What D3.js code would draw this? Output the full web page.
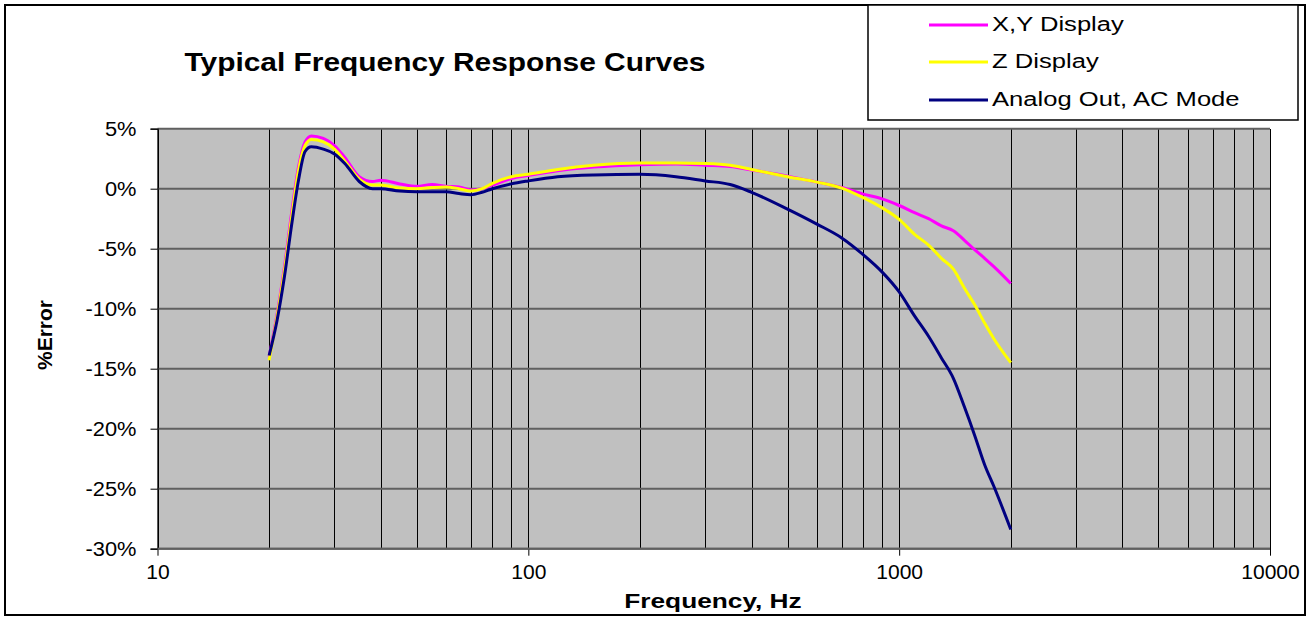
<!DOCTYPE html>
<html>
<head>
<meta charset="utf-8">
<script src="https://cdn.jsdelivr.net/npm/d3@7"></script>
<style>
  body { margin: 0; background: #fff; }
  text { font-family: Arial, "Liberation Sans", sans-serif; fill: #000; }
</style>
</head>
<body>
<div id="chart"></div>
<script>
var chart_width = 1312;
var chart_height = 619;

// Data
var frequencies = [20, 21, 22, 23, 24, 25, 26, 28, 30, 32, 35, 38, 40, 45, 50, 55, 60, 65, 70, 75, 80, 90,
	100, 120, 150, 200, 250, 300, 350, 400, 500, 600, 700, 800, 900,
	1000, 1100, 1200, 1300, 1400, 1500, 1600, 1700, 1800, 2000];

var xy_display = [-14.0, -10.5, -6.5, -2.0, 1.8, 3.9, 4.4, 4.2, 3.6, 2.6, 1.0, 0.6, 0.7, 0.4, 0.2, 0.35, 0.2, 0.15, -0.1, 0.0, 0.3, 0.85,
	1.1, 1.5, 1.8, 2.0, 2.05, 1.95, 1.85, 1.55, 1.05, 0.55, 0.1, -0.45, -0.85,
	-1.4, -2.0, -2.5, -3.1, -3.5, -4.3, -5.1, -5.8, -6.5, -7.9];

var z_display = [-14.3, -10.7, -6.8, -2.4, 1.5, 3.6, 4.1, 3.9, 3.3, 2.3, 0.8, 0.3, 0.3, 0.05, 0.0, 0.1, 0.15, 0.0, -0.2, 0.0, 0.45, 1.0,
	1.2, 1.6, 1.95, 2.15, 2.15, 2.1, 1.95, 1.6, 1.0, 0.55, 0.05, -0.75, -1.6,
	-2.55, -3.8, -4.7, -5.8, -6.7, -8.3, -9.7, -11.2, -12.5, -14.5];

var analog_out = [-13.9, -11.0, -7.3, -3.0, 0.7, 3.1, 3.5, 3.3, 2.9, 2.1, 0.6, 0.0, 0.0, -0.2, -0.25, -0.25, -0.25, -0.4, -0.5, -0.3, 0.0, 0.4,
	0.65, 1.0, 1.15, 1.2, 1.0, 0.65, 0.35, -0.3, -1.7, -2.95, -4.1, -5.5, -6.95,
	-8.6, -10.6, -12.3, -14.1, -15.8, -18.2, -20.6, -23.0, -24.8, -28.4];

var series_names = ["X,Y Display", "Z Display", "Analog Out, AC Mode"];
var series_colors = ["#ff00ff", "#ffff00", "#000080"];

var y_ticks = [5, 0, -5, -10, -15, -20, -25, -30];
var x_major_ticks = [10, 100, 1000, 10000];
var x_minor_ticks = [20, 30, 40, 50, 60, 70, 80, 90, 200, 300, 400, 500, 600, 700, 800, 900,
	2000, 3000, 4000, 5000, 6000, 7000, 8000, 9000];

var series = [xy_display, z_display, analog_out];

// Scales
var x = d3.scaleLog().domain([10, 10000]).range([157.5, 1270]);
var y = d3.scaleLinear().domain([-30, 5]).range([548.7, 128.7]);

var svg = d3.select('#chart')
			.append('svg')
			.attr('width', chart_width)
			.attr('height', chart_height);

// outer frame
svg.append('rect')
	.attr('x', 5).attr('y', 5)
	.attr('width', 1300).attr('height', 610)
	.attr('fill', 'white')
	.attr('stroke', 'black')
	.attr('stroke-width', 2);

// plot area
svg.append('rect')
	.attr('x', x(10)).attr('y', y(5))
	.attr('width', x(10000) - x(10))
	.attr('height', y(-30) - y(5))
	.attr('fill', '#c0c0c0');

// vertical grid
svg.selectAll('line.vgrid')
	.data(x_minor_ticks.concat(x_major_ticks))
	.enter()
	.append('line')
	.attr('class', 'vgrid')
	.attr('x1', function(d){ return Math.round(x(d)) + 0.5; })
	.attr('x2', function(d){ return Math.round(x(d)) + 0.5; })
	.attr('y1', y(5))
	.attr('y2', y(-30))
	.attr('stroke', 'black')
	.attr('stroke-width', 1)
	.attr('shape-rendering', 'crispEdges');

// horizontal grid
svg.selectAll('line.hgrid')
	.data(y_ticks)
	.enter()
	.append('line')
	.attr('class', 'hgrid')
	.attr('x1', x(10))
	.attr('x2', x(10000))
	.attr('y1', function(d){ return y(d); })
	.attr('y2', function(d){ return y(d); })
	.attr('stroke', '#606060')
	.attr('stroke-width', 2);

// Axes
var y_axis = d3.axisLeft(y)
	.tickValues(y_ticks)
	.tickSize(7)
	.tickPadding(14)
	.tickFormat(function(d){ return d + '%'; });

var x_axis = d3.axisBottom(x)
	.tickValues(x_major_ticks)
	.tickSize(7)
	.tickPadding(9)
	.tickFormat(d3.format('d'));

var gy = svg.append('g')
	.attr('transform', 'translate(' + x(10) + ',0)')
	.call(y_axis);
gy.select('.domain').attr('stroke', 'black').attr('stroke-width', 1.2);
gy.selectAll('.tick line').attr('stroke', 'black');
gy.selectAll('.tick text')
	.style('font-size', '19.5px')
	.attr('dy', '0.36em');

var gx = svg.append('g')
	.attr('transform', 'translate(0,' + y(-30) + ')')
	.call(x_axis);
gx.select('.domain').remove();
gx.selectAll('.tick line').attr('stroke', 'black');
gx.selectAll('.tick text')
	.style('font-size', '19.5px');

// stretch text horizontally like the reference
function stretch(sel, k){
	sel.each(function(){
		var t = d3.select(this);
		var bx = this.getBBox();
		var cx = bx.x + bx.width / 2;
		var anchor = t.attr('text-anchor') || window.getComputedStyle(this).textAnchor;
		var ox = anchor === 'end' ? bx.x + bx.width : (anchor === 'start' ? bx.x : cx);
		var prev = t.attr('transform') || '';
		t.attr('transform', prev + ' translate(' + ox + ',0) scale(' + k + ',1) translate(' + (-ox) + ',0)');
	});
}
stretch(gy.selectAll('.tick text'), 1.12);
stretch(gx.selectAll('.tick text'), 1.08);

// bottom axis line (gray)
svg.append('line')
	.attr('x1', x(10)).attr('x2', x(10000))
	.attr('y1', y(-30)).attr('y2', y(-30))
	.attr('stroke', '#606060')
	.attr('stroke-width', 2);

// Curves
var line = d3.line()
	.x(function(d){ return x(d[0]); })
	.y(function(d){ return y(d[1]); })
	.curve(d3.curveMonotoneX);

svg.selectAll('path.curve')
	.data(series)
	.enter()
	.append('path')
	.attr('class', 'curve')
	.attr('d', function(values){
		return line(frequencies.map(function(f, i){ return [f, values[i]]; }));
	})
	.attr('fill', 'none')
	.attr('stroke', function(d, i){ return series_colors[i]; })
	.attr('stroke-width', 3)
	.attr('stroke-linejoin', 'round');

// Title
var title = svg.append('text')
	.attr('x', 445)
	.attr('y', 71)
	.attr('text-anchor', 'middle')
	.style('font-size', '26px')
	.style('font-weight', 'bold')
	.text('Typical Frequency Response Curves');
stretch(title, 1.15);

// Axis titles
var xlabel = svg.append('text')
	.attr('x', 713)
	.attr('y', 608)
	.attr('text-anchor', 'middle')
	.style('font-size', '21px')
	.style('font-weight', 'bold')
	.text('Frequency, Hz');
stretch(xlabel, 1.25);

svg.append('text')
	.attr('transform', 'translate(52,335) rotate(-90)')
	.attr('text-anchor', 'middle')
	.style('font-size', '21px')
	.style('font-weight', 'bold')
	.text('%Error');

// Legend
var legend = svg.append('g');
legend.append('rect')
	.attr('x', 868).attr('y', 5)
	.attr('width', 430).attr('height', 115)
	.attr('fill', 'white')
	.attr('stroke', 'black')
	.attr('stroke-width', 1.5);

var legend_rows = [25, 62, 100];
var items = legend.selectAll('g.item')
	.data(series_names)
	.enter()
	.append('g')
	.attr('class', 'item');

items.append('line')
	.attr('x1', 929).attr('x2', 988)
	.attr('y1', function(d, i){ return legend_rows[i]; })
	.attr('y2', function(d, i){ return legend_rows[i]; })
	.attr('stroke', function(d, i){ return series_colors[i]; })
	.attr('stroke-width', 3);

var labels = items.append('text')
	.attr('x', 992)
	.attr('y', function(d, i){ return legend_rows[i] + 6.5; })
	.attr('text-anchor', 'start')
	.style('font-size', '20px')
	.text(function(d){ return d; });
stretch(labels, 1.28);
</script>
</body>
</html>
